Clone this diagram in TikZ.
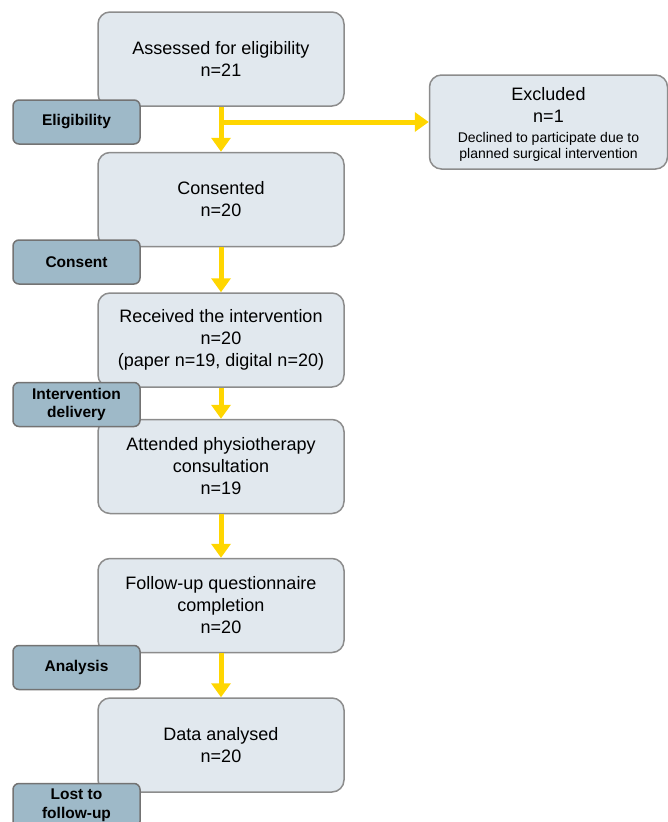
\documentclass[tikz,border=0pt]{standalone}
\usepackage{fontspec}
\setmainfont{Liberation Sans}
\usetikzlibrary{arrows.meta}
\definecolor{boxfill}{RGB}{225,232,238}
\definecolor{boxline}{RGB}{140,140,140}
\definecolor{labfill}{RGB}{158,185,200}
\definecolor{labline}{RGB}{115,115,115}
\definecolor{arrowc}{RGB}{255,214,0}
\tikzset{
  mainbox/.style={draw=boxline, fill=boxfill, line width=1.5pt, rounded corners=12pt,
    minimum width=246pt, minimum height=94pt, inner sep=0pt, align=center,
    font=\fontsize{18}{22}\selectfont},
  exbox/.style={draw=boxline, fill=boxfill, line width=1.5pt, rounded corners=12pt,
    minimum width=238pt, minimum height=94pt, inner sep=0pt, align=center,
    font=\fontsize{18}{22}\selectfont},
  labbox/.style={draw=labline, fill=labfill, line width=1.5pt, rounded corners=6pt,
    minimum width=127pt, minimum height=44pt, inner sep=0pt, align=center,
    font=\fontsize{15.5}{18.5}\selectfont\bfseries},
  flow/.style={draw=arrowc, line width=5pt, -{Triangle[width=19pt,length=14pt]}}
}
\newcommand{\smalltxt}[1]{{\fontsize{14}{16}\selectfont #1}}
\begin{document}
\begin{tikzpicture}[x=1pt,y=-1pt]
\useasboundingbox (0,0) rectangle (668,822);
\begin{scope}
\clip (0,0) rectangle (668,822);
\node[mainbox] (b1) at (221,59) {Assessed for eligibility\\n=21};
\node[mainbox] (b2) at (221,199.5) {Consented\\n=20};
\node[mainbox] (b3) at (221,340) {Received the intervention\\n=20\\(paper n=19, digital n=20)};
\node[mainbox] (b4) at (221,466.5) {Attended physiotherapy\\consultation\\n=19};
\node[mainbox] (b5) at (221,605.5) {Follow-up questionnaire\\completion\\n=20};
\node[mainbox] (b6) at (221,745) {Data analysed\\n=20};
\node[exbox] (ex) at (548.5,122) {\rule{0pt}{17pt}Excluded\\n=1\\[-2pt]\smalltxt{Declined to participate due to}\\[-6pt]\smalltxt{planned surgical intervention}};

\coordinate (split) at (b1.south |- ex.west);
\draw[flow] (b1.south) -- (b2.north);
\draw[flow] (split) -- (ex.west);
\draw[flow] (b2.south) -- (b3.north);
\draw[flow] (b3.south) -- (b4.north);
\draw[flow] (b4.south) -- (b5.north);
\draw[flow] (b5.south) -- (b6.north);

\node[labbox] (l1) at (76.5,122) {Eligibility};
\node[labbox] (l2) at (76.5,262) {Consent};
\node[labbox] (l3) at (76.5,404.5) {Intervention\\delivery};
\node[labbox] (l4) at (76.5,667.5) {Analysis};
\node[labbox] (l5) at (76.5,805.5) {Lost to\\follow-up};
\end{scope}
\end{tikzpicture}
\end{document}
